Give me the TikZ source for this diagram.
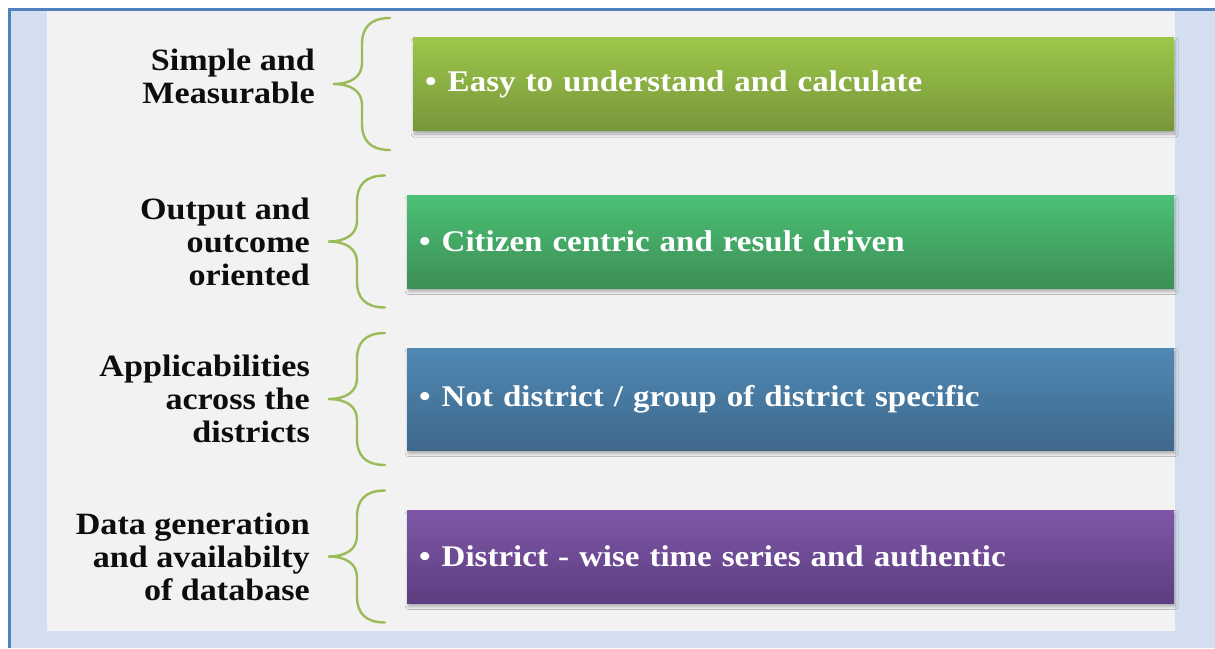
\documentclass[tikz,border=0pt]{standalone}
\usepackage{fontspec}
\setmainfont{Liberation Serif}[FakeStretch=1.1]
\usetikzlibrary{positioning,shadows.blur}

\definecolor{frameline}{HTML}{4F81BD}
\definecolor{framefill}{HTML}{D3DFF0}
\definecolor{panel}{HTML}{F2F2F2}
\definecolor{curl}{HTML}{9BBB59}
\definecolor{limeA}{HTML}{9DC64A}
\definecolor{limeB}{HTML}{76973A}
\definecolor{mintA}{HTML}{4BC075}
\definecolor{mintB}{HTML}{3D8F56}
\definecolor{steelA}{HTML}{5089B5}
\definecolor{steelB}{HTML}{3E688A}
\definecolor{plumA}{HTML}{7E57A7}
\definecolor{plumB}{HTML}{5D3E80}

% left curly brace, tip at the given point
\newcommand{\curlybrace}[1]{%
  \begin{scope}[shift={(#1)}]
    \draw[curl, line width=2.4pt, line cap=round]
      (57,-66) .. controls (37,-66) and (29,-56) .. (29,-40) -- (29,-21)
      .. controls (29,-7) and (18,0) .. (0,0)
      .. controls (18,0) and (29,7) .. (29,21) -- (29,40)
      .. controls (29,56) and (37,66) .. (57,66);
  \end{scope}}

\begin{document}
\begin{tikzpicture}[x=1pt, y=-1pt,
  itembox/.style={rectangle, anchor=west, text=white, align=left,
    font=\fontsize{30}{34}\selectfont\bfseries,
    inner xsep=12pt, minimum height=93pt,
    blur shadow={shadow xshift=1pt, shadow yshift=-3.5pt,
      shadow blur radius=3pt, shadow opacity=30}},
  heading/.style={anchor=east, align=right, text=black!95,
    font=\fontsize{31}{33}\selectfont\bfseries, inner sep=0pt}]

  % frame and panel
  \useasboundingbox (0,0) rectangle (1215,648);
  \fill[white] (0,0) rectangle (1215,648);
  \fill[framefill] (9.5,9.5) rectangle (1215,648);
  \fill[panel] (47,11) rectangle (1175,631);
  \draw[frameline, line width=3pt] (9.5,648) -- (9.5,9.5) -- (1215,9.5);

  % boxes
  \node[itembox, top color=limeA, bottom color=limeB, text width=737pt]
    (simple) at (413,84) {\textbullet\hspace{11pt}Easy to understand and calculate};
  \node[itembox, top color=mintA, bottom color=mintB, text width=743pt]
    (output) at (407,241.5) {\textbullet\hspace{11pt}Citizen centric and result driven};
  \node[itembox, top color=steelA, bottom color=steelB, text width=743pt,
    minimum height=102pt]
    (apply) at (407,399) {\textbullet\hspace{11pt}Not district / group of district specific};
  \node[itembox, top color=plumA, bottom color=plumB, text width=743pt]
    (data) at (407,556.5) {\textbullet\hspace{11pt}District - wise time series and authentic};

  % headings
  \node[heading, left=98pt of simple.west, yshift=8pt] (simpleh)
    {Simple and\\Measurable};
  \node[heading, left=97pt of output.west] (outputh)
    {Output and\\outcome\\oriented};
  \node[heading, left=97pt of apply.west] (applyh)
    {Applicabilities\\across the\\districts};
  \node[heading, left=97pt of data.west] (datah)
    {Data generation\\and availabilty\\of database};

  % braces
  \curlybrace{[xshift=-80pt]simple.west}
  \curlybrace{[xshift=-79pt]output.west}
  \curlybrace{[xshift=-79pt]apply.west}
  \curlybrace{[xshift=-79pt]data.west}
\end{tikzpicture}
\end{document}
